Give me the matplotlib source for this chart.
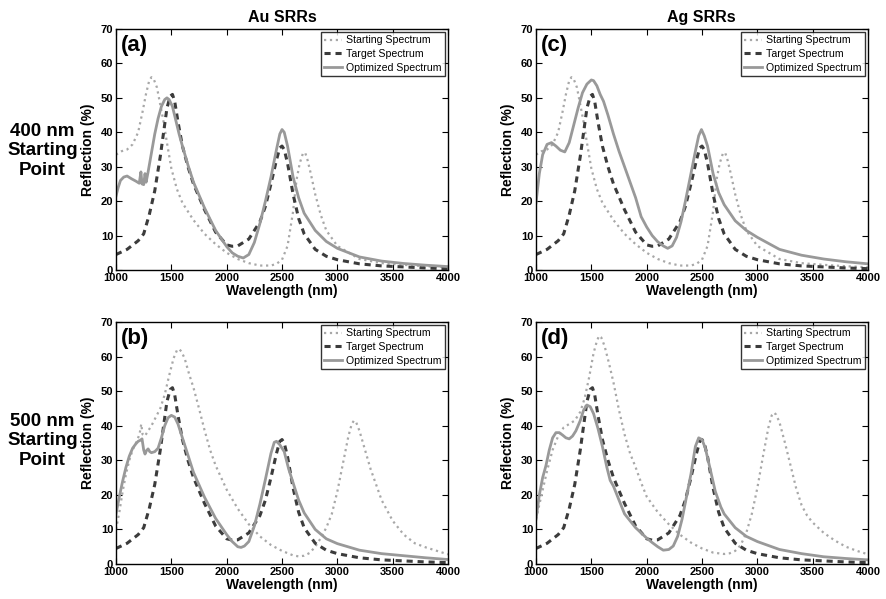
import matplotlib
matplotlib.use("Agg")
import matplotlib.pyplot as plt

plt.rcParams['font.family'] = ['Liberation Sans', 'DejaVu Sans']

# Target spectrum (same in all four panels)
target_x = [1000, 1100, 1200, 1250, 1300, 1350, 1400, 1430, 1460, 1490, 1510, 1530, 1560, 1600, 1650,
            1700, 1800, 1900, 2000, 2050, 2100, 2200, 2300, 2350, 2400, 2450, 2480, 2500, 2520, 2550,
            2600, 2650, 2700, 2800, 2900, 3000, 3200, 3400, 3600, 3800, 4000]
target_y = [4.5, 6, 8.5, 10.5, 16, 23, 33, 40, 47, 50.5, 51, 49, 43, 36, 30,
            25, 17.5, 11, 7.3, 6.9, 7, 9, 14, 18.5, 25, 32, 35.5, 36, 35, 31,
            22, 15, 10.5, 6, 4, 3, 1.8, 1.2, 0.9, 0.6, 0.4]

# 400 nm starting point (panels a, c)
start400_x = [1000, 1050, 1100, 1150, 1200, 1240, 1270, 1300, 1320, 1340, 1370, 1400, 1430, 1460, 1500,
              1550, 1600, 1700, 1800, 1900, 2000, 2100, 2200, 2300, 2400, 2450, 2500, 2550, 2600, 2630,
              2660, 2690, 2710, 2730, 2760, 2800, 2850, 2900, 3000, 3200, 3400, 3600, 3800, 4000]
start400_y = [33.5, 34.5, 35, 36.5, 40, 46, 51, 55, 56, 55.5, 53, 48, 43, 37, 29.5,
              23.5, 19.5, 14.5, 10.5, 7.5, 5, 3.2, 2, 1.3, 1.3, 1.8, 3, 7, 17, 26,
              31, 34, 34, 32, 28, 22, 16, 11.5, 7, 3.2, 2, 1.5, 1.1, 0.8]

# Optimized, Au, 400 nm (a)
opt_a_x = [1000, 1020, 1040, 1070, 1100, 1140, 1180, 1210, 1225, 1235, 1250, 1262, 1272, 1290, 1320,
           1350, 1380, 1410, 1440, 1460, 1480, 1510, 1540, 1570, 1600, 1650, 1700, 1800, 1900, 2000,
           2050, 2100, 2150, 2200, 2250, 2300, 2350, 2400, 2450, 2480, 2500, 2520, 2550, 2600, 2650,
           2700, 2800, 2900, 3000, 3200, 3400, 3600, 3800, 4000]
opt_a_y = [21.5, 24, 26, 27, 27.3, 26.5, 25.8, 25.2, 28.5, 25, 24.8, 28, 25.5, 28.5, 34,
           39.5, 44, 47.5, 49.5, 50, 49.5, 47.5, 43.5, 39.5, 36, 30.5, 25.5, 18, 11.5, 6.8,
           5, 4, 3.5, 4.5, 8, 13.5, 20, 27, 35, 39.5, 40.8, 40, 36, 27, 21,
           16.5, 11.5, 8.3, 6.3, 3.8, 2.6, 1.9, 1.4, 1.0]

# Optimized, Ag, 400 nm (c)
opt_c_x = [1000, 1030, 1060, 1100, 1140, 1180, 1220, 1260, 1300, 1340, 1380, 1420, 1460, 1500, 1520,
           1550, 1580, 1610, 1650, 1700, 1750, 1800, 1850, 1900, 1950, 2000, 2050, 2100, 2150, 2190,
           2230, 2270, 2310, 2350, 2400, 2440, 2470, 2495, 2520, 2550, 2600, 2650, 2700, 2800, 2900,
           3000, 3200, 3400, 3600, 3800, 4000]
opt_c_y = [19.5, 28, 33.5, 36.5, 37, 36, 34.8, 34.3, 37, 42, 47, 51.5, 54, 55.2, 55,
           53.5, 51, 49, 45, 39.5, 34.5, 30, 25.5, 21, 15.5, 12.5, 10, 8.2, 7, 6.3,
           7, 9.5, 14, 20, 28, 34.5, 39, 40.8, 39, 36, 28, 22.5, 19, 14.3, 11.5,
           9.5, 6, 4.3, 3.2, 2.4, 1.8]

# 500 nm starting point, Au (b)
start_b_x = [1000, 1030, 1060, 1090, 1120, 1150, 1180, 1200, 1215, 1228, 1240, 1260, 1290, 1320, 1360,
             1400, 1440, 1480, 1520, 1550, 1570, 1590, 1620, 1660, 1700, 1750, 1800, 1850, 1900, 2000,
             2100, 2200, 2300, 2400, 2500, 2600, 2650, 2700, 2750, 2800, 2850, 2900, 2950, 3000, 3050,
             3100, 3130, 3150, 3170, 3200, 3250, 3300, 3400, 3500, 3600, 3700, 3800, 3900, 4000]
start_b_y = [10, 15, 21, 26, 30, 33, 35, 36.5, 38, 40.5, 37.5, 37, 38.5, 40, 42.5,
             45, 49, 54.5, 59.5, 61.8, 62.2, 61.5, 59.5, 55, 51, 45, 38.7, 33, 28.5, 21.5,
             16, 11.5, 8, 5.5, 3.8, 2.5, 2.2, 2.4, 3.2, 5, 7.5, 10.5, 14.5, 21, 29,
             37, 40.5, 41.5, 41, 38.5, 33, 27.5, 18.5, 12.5, 8.5, 6, 4.8, 3.8, 2.8]

# Optimized, Au, 500 nm (b)
opt_b_x = [1000, 1030, 1060, 1090, 1120, 1150, 1180, 1200, 1220, 1235, 1250, 1262, 1275, 1290, 1305,
           1320, 1350, 1380, 1410, 1440, 1470, 1500, 1530, 1560, 1600, 1650, 1700, 1800, 1900, 2000,
           2050, 2100, 2130, 2160, 2200, 2250, 2300, 2350, 2400, 2430, 2450, 2480, 2520, 2560, 2600,
           2650, 2700, 2800, 2900, 3000, 3200, 3400, 3600, 3800, 4000]
opt_b_y = [14.5, 19.5, 24, 28, 31.2, 33.5, 34.8, 35.5, 35.8, 36.2, 33, 31.8, 32.8, 33.3, 32.5,
           32.2, 32.5, 33.5, 36.5, 40, 42.3, 43, 42.5, 40.5, 36.5, 31.5, 26.5, 19.3, 13.2, 8.5,
           6.5, 5, 4.8, 5.2, 6.5, 11, 17.3, 24.5, 32, 35.2, 35.5, 34.5, 32.5, 27.5, 23.5,
           18.5, 14.8, 10, 7.3, 5.9, 4, 3, 2.4, 1.8, 1.3]

# 500 nm starting point, Ag (d)
start_d_x = [1000, 1050, 1100, 1150, 1200, 1250, 1300, 1350, 1400, 1440, 1480, 1520, 1550, 1570, 1590,
             1620, 1660, 1700, 1750, 1800, 1850, 1900, 1950, 2000, 2100, 2200, 2300, 2400, 2500, 2600,
             2700, 2750, 2800, 2850, 2900, 2950, 3000, 3050, 3100, 3130, 3150, 3170, 3200, 3250, 3300,
             3350, 3400, 3450, 3500, 3600, 3700, 3800, 3900, 4000]
start_d_y = [13, 20, 27, 33, 37, 39.5, 40.5, 41.5, 44, 48, 54, 61, 64.5, 66, 65.5,
             63, 58, 52.5, 44.5, 37.5, 32, 28, 23.5, 19.5, 15, 11.5, 8.5, 6.2, 4.5, 3.3,
             2.9, 3.1, 3.8, 5.5, 9, 14.5, 22, 31, 39.5, 43, 43.8, 43.2, 41, 35, 28.5,
             22, 17, 14, 12, 9, 6.8, 5, 3.8, 2.8]

# Optimized, Ag, 500 nm (d)
opt_d_x = [1000, 1030, 1060, 1090, 1120, 1150, 1180, 1210, 1240, 1270, 1300, 1330, 1360, 1400, 1430,
           1460, 1490, 1520, 1560, 1600, 1640, 1670, 1700, 1750, 1800, 1850, 1900, 1950, 2000, 2050,
           2100, 2150, 2200, 2240, 2280, 2320, 2360, 2400, 2440, 2470, 2500, 2530, 2570, 2620, 2670,
           2700, 2800, 2900, 3000, 3200, 3400, 3600, 3800, 4000]
opt_d_y = [13, 20, 25, 28.5, 33, 36.5, 38, 38, 37.3, 36.5, 36.2, 37, 38.5, 41.5, 44.5,
           46, 45.5, 43.5, 39.2, 34, 28, 24.2, 22.5, 18.5, 14.5, 12.5, 10.5, 9, 7.5, 6.2,
           5, 4, 4.2, 5.2, 8, 13, 19.5, 26, 34, 36.5, 36, 33.5, 28, 21, 16.5,
           14.5, 10.5, 8, 6.5, 4.2, 3, 2.1, 1.6, 1.2]

panels = [
    ('(a)', start400_x, start400_y, opt_a_x, opt_a_y, [0.1308, 0.5492, 0.3743, 0.4024]),
    ('(c)', start400_x, start400_y, opt_c_x, opt_c_y, [0.6043, 0.5492, 0.3743, 0.4024]),
    ('(b)', start_b_x, start_b_y, opt_b_x, opt_b_y, [0.1308, 0.0584, 0.3743, 0.4040]),
    ('(d)', start_d_x, start_d_y, opt_d_x, opt_d_y, [0.6043, 0.0584, 0.3743, 0.4040]),
]

fig = plt.figure(figsize=(8.87, 5.99), dpi=100)

for tag, sx, sy, ox, oy, pos in panels:
    ax = fig.add_axes(pos)
    ax.plot(sx, sy, color='#a8a8a8', linestyle=':', linewidth=1.6, label='Starting Spectrum')
    ax.plot(target_x, target_y, color='#3c3c3c', linestyle=(0, (2, 1.6)), linewidth=2.2,
            label='Target Spectrum')
    ax.plot(ox, oy, color='#999999', linestyle='-', linewidth=2.0, label='Optimized Spectrum')
    ax.set_xlim(1000, 4000)
    ax.set_ylim(0, 70)
    ax.set_xticks(range(1000, 4001, 500))
    ax.set_yticks(range(0, 71, 10))
    ax.tick_params(direction='in', top=True, right=True, length=4, width=0.8,
                   labelsize=8, pad=2)
    for lab in ax.get_xticklabels() + ax.get_yticklabels():
        lab.set_fontweight('bold')
    for sp in ax.spines.values():
        sp.set_linewidth(1.0)
    ax.set_xlabel('Wavelength (nm)', fontsize=10, fontweight='bold', labelpad=1)
    ax.set_ylabel('Reflection (%)', fontsize=10, fontweight='bold', labelpad=4)
    ax.text(0.015, 0.975, tag, transform=ax.transAxes, fontsize=16, fontweight='bold',
            va='top', ha='left')
    leg = ax.legend(loc='upper right', fontsize=7.6, frameon=True, fancybox=False,
                    borderpad=0.3, labelspacing=0.35, handlelength=1.7, handletextpad=0.4,
                    borderaxespad=0.3)
    leg.get_frame().set_edgecolor('black')
    leg.get_frame().set_linewidth(1.0)

fig.text(0.318, 0.984, 'Au SRRs', fontsize=11.5, fontweight='bold', ha='center', va='top')
fig.text(0.791, 0.984, 'Ag SRRs', fontsize=11.5, fontweight='bold', ha='center', va='top')
fig.text(0.048, 0.748, '400 nm\nStarting\nPoint', fontsize=13.5, fontweight='bold',
         ha='center', va='center', linespacing=1.2)
fig.text(0.048, 0.264, '500 nm\nStarting\nPoint', fontsize=13.5, fontweight='bold',
         ha='center', va='center', linespacing=1.2)

fig.savefig('out.png', dpi=100)
